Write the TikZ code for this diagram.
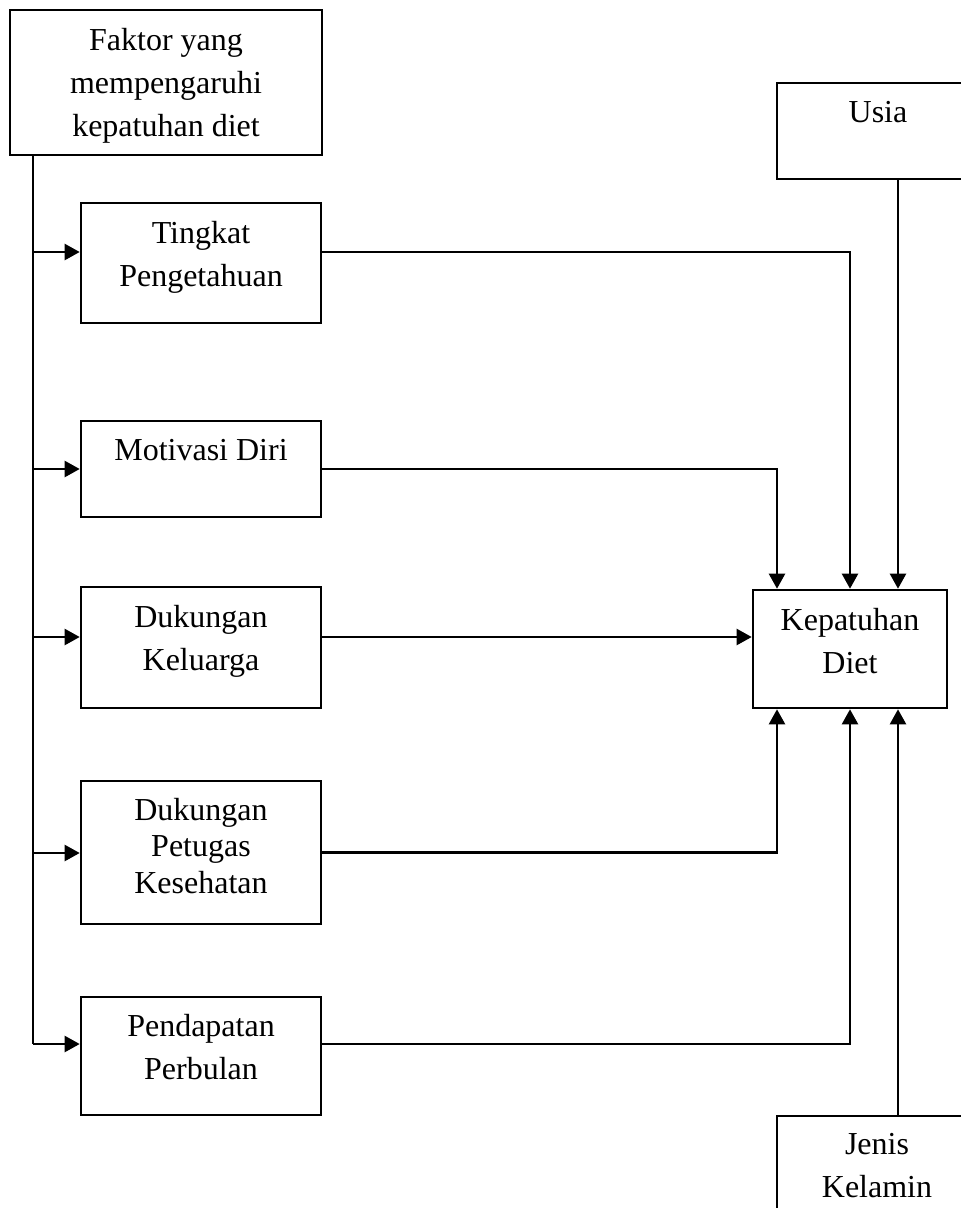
\documentclass[tikz,border=0pt]{standalone}
\usepackage{fontspec}
\setmainfont{Liberation Serif}
\usetikzlibrary{arrows.meta,positioning}
\begin{document}
    \begin{tikzpicture}[
        x = 1pt,
        y = -1pt,
        box/.style = {draw, line width=2.6pt, inner sep=0pt},
        lbl/.style = {inner sep=0pt, align=center, font=\fontsize{32}{43}\selectfont},
        line/.style = {line width=2.3pt},
        arr/.style = {line width=2.3pt, -{Triangle[length=15pt,width=16pt]}}
    ]
        \clip (0,0) rectangle (961,1208);
        % boxes
        \node[box, minimum width=312pt, minimum height=145pt] (faktor) at (166,82.5) {};
        \node[box, minimum width=240pt, minimum height=120pt] (tingkat) at (201,263) {};
        \node[box, minimum width=240pt, minimum height=96pt] (motivasi) at (201,469) {};
        \node[box, minimum width=240pt, minimum height=121pt] (keluarga) at (201,647.5) {};
        \node[box, minimum width=240pt, minimum height=143pt] (petugas) at (201,852.5) {};
        \node[box, minimum width=240pt, minimum height=118pt] (pendapatan) at (201,1056) {};
        \node[box, minimum width=194pt, minimum height=118pt] (kepatuhan) at (850,649) {};
        \node[box, minimum width=202pt, minimum height=96pt] (usia) at (878,131) {};
        \node[box, minimum width=200pt, minimum height=120pt] (jenis) at (877,1176) {};
        % texts
        \node[lbl, below=11pt of faktor.north] {\strut Faktor yang\\mempengaruhi\\kepatuhan diet};
        \node[lbl, below=11pt of tingkat.north] {\strut Tingkat\\Pengetahuan};
        \node[lbl, below=10pt of motivasi.north] {\strut Motivasi Diri};
        \node[lbl, below=11pt of keluarga.north] {\strut Dukungan\\Keluarga};
        \node[lbl, below=15pt of petugas.north, font=\fontsize{32}{36.5}\selectfont] {\strut Dukungan\\Petugas\\Kesehatan};
        \node[lbl, below=10pt of pendapatan.north] {\strut Pendapatan\\Perbulan};
        \node[lbl, below=11pt of kepatuhan.north] {\strut Kepatuhan\\Diet};
        \node[lbl, below=10pt of usia.north] {\strut Usia};
        \node[lbl, below=9pt of jenis.north] {\strut Jenis\\Kelamin};
        % connectors
        \coordinate (spinetop) at (33,155);
        \coordinate (spinebot) at (33,1044);
        \draw[line] (spinetop) -- (spinebot);
        \foreach \n/\y in {tingkat/252, motivasi/469, keluarga/637, petugas/853, pendapatan/1044}
            \draw[arr] (spinetop |- 0,\y) -- (\n.west |- 0,\y);
        \draw[arr] (tingkat.east |- 0,252) -| (kepatuhan.north);
        \draw[arr] (motivasi.east) -| (kepatuhan.north -| 777,0);
        \draw[arr] (keluarga.east |- 0,637) -- (kepatuhan.west |- 0,637);
        \draw[arr] (petugas.east) -| (kepatuhan.south -| 777,0);
        \draw[arr] (pendapatan.east |- 0,1044) -| (kepatuhan.south);
        \draw[arr] (usia.south -| 898,0) -- (kepatuhan.north -| 898,0);
        \draw[arr] (jenis.north -| 898,0) -- (kepatuhan.south -| 898,0);
    \end{tikzpicture}
\end{document}
